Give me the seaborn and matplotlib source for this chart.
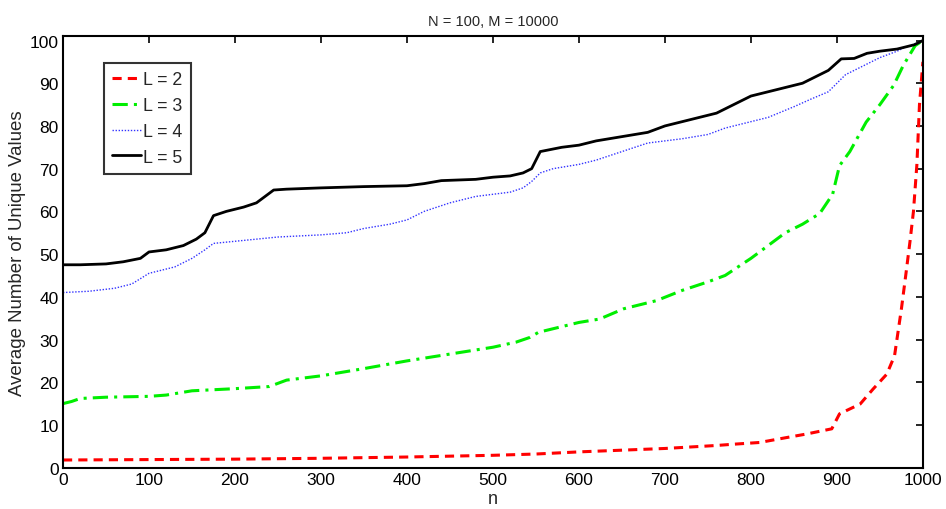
import matplotlib
matplotlib.use("Agg")
import matplotlib.pyplot as plt
import seaborn as sns
import pandas as pd

# ---- data ----
n2 = [0, 100, 200, 300, 400, 500, 550, 600, 650, 700, 760, 780, 810, 840, 865, 894, 903, 927, 942, 958, 967, 971, 975, 980, 985, 989, 993, 996, 1000]
v2 = [1.8, 1.9, 2.0, 2.2, 2.5, 2.9, 3.2, 3.7, 4.1, 4.5, 5.2, 5.5, 5.9, 7.0, 7.9, 9.1, 12.6, 14.9, 18.4, 21.9, 26.2, 31.7, 37.2, 45, 53, 60, 71, 85, 95]

n3 = [0, 10, 20, 50, 100, 120, 150, 200, 240, 260, 300, 350, 400, 450, 500, 527, 543, 553, 600, 624, 652, 690, 720, 750, 770, 800, 820, 840, 860, 880, 895, 903, 915, 934, 950, 966, 977, 991, 1000]
v3 = [15, 15.5, 16.2, 16.5, 16.7, 17, 18, 18.5, 19, 20.5, 21.5, 23.2, 25, 26.6, 28.2, 29.4, 30.5, 31.7, 34, 34.8, 37.2, 39.1, 41.5, 43.5, 45, 49, 52, 55, 57, 59.5, 64, 70.7, 74, 80.9, 85, 89.5, 94.1, 98.8, 100]

n4 = [0, 30, 60, 80, 100, 130, 150, 165, 175, 200, 250, 300, 330, 350, 380, 400, 420, 450, 480, 500, 520, 535, 545, 555, 570, 600, 620, 650, 680, 720, 750, 770, 800, 820, 850, 870, 890, 900, 910, 930, 950, 970, 980, 990, 1000]
v4 = [41, 41.3, 42, 43, 45.5, 47, 49, 51, 52.5, 53, 54, 54.5, 55, 56, 57, 58, 60, 62, 63.5, 64, 64.5, 65.5, 67, 69, 70, 71, 72, 74, 76, 77, 78, 79.5, 81, 82, 84.5, 86.3, 88, 90, 92, 94, 96, 97.5, 98.5, 99.2, 100]

n5 = [0, 20, 50, 70, 90, 100, 120, 140, 155, 165, 175, 190, 210, 225, 235, 245, 260, 300, 350, 400, 420, 440, 480, 500, 520, 535, 545, 555, 580, 600, 620, 650, 680, 700, 720, 740, 760, 780, 800, 820, 840, 860, 880, 890, 905, 920, 935, 950, 970, 990, 1000]
v5 = [47.5, 47.5, 47.7, 48.2, 49, 50.5, 51, 52, 53.5, 55, 59, 60, 61, 62, 63.5, 65, 65.2, 65.5, 65.8, 66, 66.5, 67.2, 67.5, 68, 68.3, 69, 70, 74, 75, 75.5, 76.5, 77.5, 78.5, 80, 81, 82, 83, 85, 87, 88, 89, 90, 92, 93, 95.7, 95.8, 97, 97.5, 98, 99, 100]

labels = ["L = 2", "L = 3", "L = 4", "L = 5"]
xticks = [0, 100, 200, 300, 400, 500, 600, 700, 800, 900, 1000]
yticks = [0, 10, 20, 30, 40, 50, 60, 70, 80, 90, 100]

sns.set_theme(style="white")
plt.rcParams['font.family'] = ['Liberation Sans', 'DejaVu Sans']

fig = plt.figure(figsize=(9.46, 5.10), dpi=100)
ax = fig.add_axes([0.0666, 0.081, 0.909, 0.846])

styles = [
    dict(color="#ff0000", linestyle=(0, (3, 2)), linewidth=2.2),
    dict(color="#00ee00", linestyle=(0, (5, 2, 1, 2)), linewidth=2.2),
    dict(color="#3333ff", linestyle=(0, (1, 1.2)), linewidth=1.0),
    dict(color="#000000", linestyle="-", linewidth=2.0),
]
for nn, vv, lab, st in zip([n2, n3, n4, n5], [v2, v3, v4, v5], labels, styles):
    df = pd.DataFrame({"n": nn, "v": vv})
    sns.lineplot(data=df, x="n", y="v", ax=ax, label=lab, **st)

ax.set_xlim(0, 1000)
ax.set_ylim(0, 101)
ax.set_xticks(xticks)
ax.set_yticks(yticks)
ax.tick_params(direction="in", length=5, width=1.2, top=True, right=True,
               labelsize=12.5, colors="black", pad=3)
for s in ax.spines.values():
    s.set_color("black")
    s.set_linewidth(1.5)
ax.set_xlabel("n", fontsize=13, labelpad=2)
ax.set_ylabel("Average Number of Unique Values", fontsize=13.4, labelpad=3)
ax.set_title("N = 100, M = 10000", fontsize=10.5, pad=8)

leg = ax.legend(loc="upper left", bbox_to_anchor=(0.048, 0.938), fontsize=12.8,
                frameon=True, fancybox=False, handlelength=1.6, handletextpad=0.15,
                borderpad=0.45, labelspacing=0.5, borderaxespad=0)
leg.get_frame().set_edgecolor("black")
leg.get_frame().set_linewidth(1.5)

fig.savefig("out.png", dpi=100)
